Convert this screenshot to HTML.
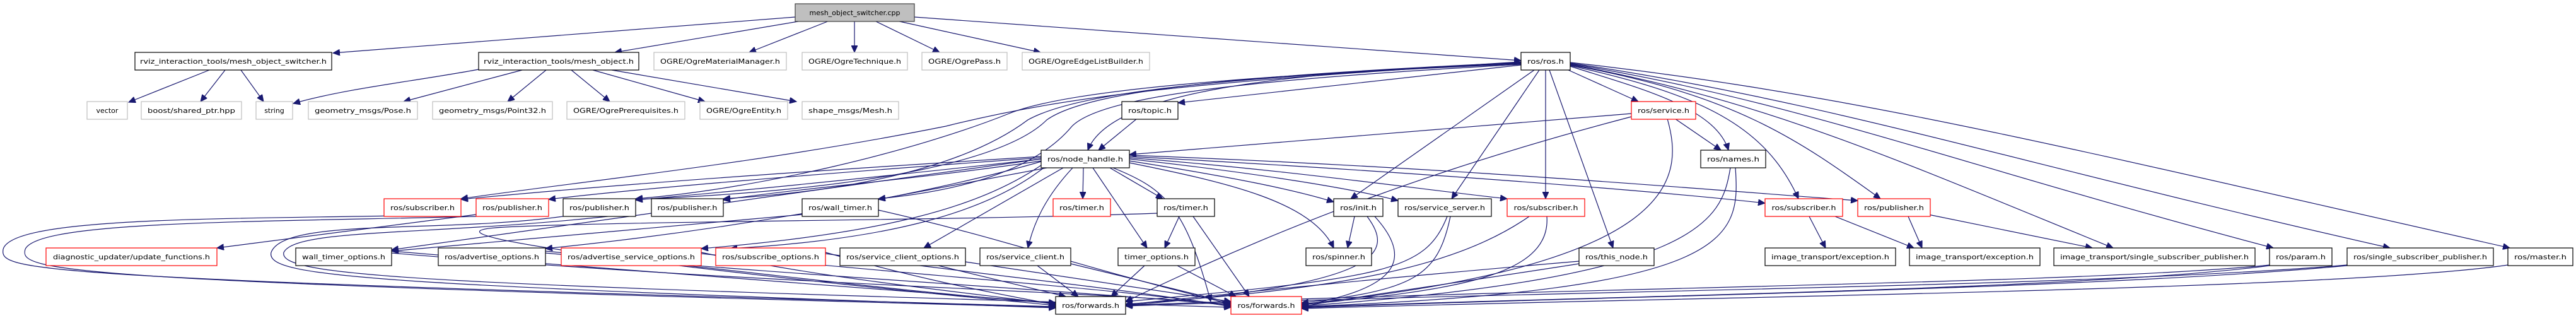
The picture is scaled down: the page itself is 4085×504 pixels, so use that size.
<!DOCTYPE html>
<html><head><meta charset="utf-8"><style>
html,body{margin:0;padding:0;background:#fff;}
svg{display:block;}
text{font-family:"DejaVu Sans","Liberation Sans",sans-serif;font-size:11px;fill:#000;}
.e{fill:none;stroke:#191970;stroke-width:1.2;}
.n rect{fill:#fff;stroke:#000;stroke-width:1.2;}
.g rect{fill:#fff;stroke:#bfbfbf;stroke-width:1.2;}
.r rect{fill:#fff;stroke:#ff0000;stroke-width:1.2;}
</style></head><body>
<svg width="4085" height="504" viewBox="0 0 4085 504" xmlns="http://www.w3.org/2000/svg">
<defs>
<marker id="a" markerUnits="userSpaceOnUse" markerWidth="12" markerHeight="10" refX="11" refY="5" orient="auto">
<path d="M0,0 L11,5 L0,10 z" fill="#191970" stroke="#191970"/>
</marker>
</defs>
<g marker-end="url(#a)">
<!-- cpp -->
<path class="e" d="M1261,27 L528,84"/>
<path class="e" d="M1272,33 L975,83"/>
<path class="e" d="M1315,33 L1188,83"/>
<path class="e" d="M1355,33 L1355,83"/>
<path class="e" d="M1387,33 L1490,83"/>
<path class="e" d="M1422,33 L1650,83"/>
<path class="e" d="M1450,27 L2412,96"/>
<!-- switcher.h -->
<path class="e" d="M332,111 L204,162"/>
<path class="e" d="M357,111 L318,161"/>
<path class="e" d="M382,111 L418,161"/>
<!-- mesh_object.h -->
<path class="e" d="M759,110 C650,130 550,140 465,164"/>
<path class="e" d="M828,111 L640,161"/>
<path class="e" d="M866,111 L805,161"/>
<path class="e" d="M906,111 L967,161"/>
<path class="e" d="M940,111 L1118,161"/>
<path class="e" d="M970,111 L1263,161"/>
<!-- ros.h -->
<path class="e" d="M2412,100 C2000,115 1760,150 1725,238"/>
<path class="e" d="M2412,103 L1868,163"/>
<path class="e" d="M2412,98 C1900,130 1700,150 1500,200 C1200,260 900,290 731,315"/>
<path class="e" d="M2412,100 C2000,120 1700,140 1600,180 C1450,240 1200,300 1008,315"/>
<path class="e" d="M2412,101 C2000,120 1720,140 1630,190 C1550,250 1400,300 1147,315"/>
<path class="e" d="M2412,102 C2000,125 1750,150 1700,200 C1650,260 1550,300 1393,315"/>
<path class="e" d="M2412,99 C2000,118 1730,140 1660,190 C1600,250 1400,300 1008,316"/>
<path class="e" d="M2433,111 L2142,315"/>
<path class="e" d="M2441,111 L2302,315"/>
<path class="e" d="M2451,111 L2451,315"/>
<path class="e" d="M2457,111 L2558,393"/>
<path class="e" d="M2487,111 L2598,161"/>
<path class="e" d="M2490,105 C2600,140 2720,170 2741,238"/>
<path class="e" d="M2490,104 C2700,150 2800,200 2852,315"/>
<path class="e" d="M2490,103 C2750,150 2850,220 2982,315"/>
<path class="e" d="M2490,102 C2800,160 3000,250 3351,393"/>
<path class="e" d="M2490,101 C2850,160 3100,260 3605,393"/>
<path class="e" d="M2490,100 C2900,160 3200,260 3790,393"/>
<path class="e" d="M2490,99 C2950,150 3300,240 3980,393"/>
<!-- service / topic / names -->
<path class="e" d="M2587,180 L1791,245"/>
<path class="e" d="M2587,185 C2300,260 2050,350 1785,478"/>
<path class="e" d="M2644,188 C2670,280 2670,420 2064,482"/>
<path class="e" d="M2656,188 L2729,238"/>
<path class="e" d="M1803,188 L1742,238"/>
<path class="e" d="M2744,266 C2730,350 2700,440 2064,485"/>
<path class="e" d="M2752,266 C2760,380 2750,460 2064,486"/>
<!-- node_handle -->
<path class="e" d="M1651,248 C1300,270 1000,290 731,316"/>
<path class="e" d="M1651,250 C1300,275 1000,300 870,316"/>
<path class="e" d="M1651,252 C1400,280 1200,300 1008,317"/>
<path class="e" d="M1651,255 C1450,285 1250,300 1147,317"/>
<path class="e" d="M1660,266 L1393,316"/>
<path class="e" d="M1718,266 L1717,315"/>
<path class="e" d="M1760,266 L1844,315"/>
<path class="e" d="M1791,255 C1950,280 2050,300 2115,320"/>
<path class="e" d="M1791,252 C2000,275 2150,300 2217,318"/>
<path class="e" d="M1791,250 C2050,270 2250,300 2390,315"/>
<path class="e" d="M1791,248 C2200,270 2600,300 2799,322"/>
<path class="e" d="M1791,246 C2300,265 2700,300 2946,318"/>
<path class="e" d="M1791,258 C1950,290 2080,320 2115,393"/>
<path class="e" d="M1651,252 C1300,300 800,370 621,396"/>
<path class="e" d="M1651,256 C1500,300 1200,360 865,394"/>
<path class="e" d="M1651,262 C1550,330 1400,370 1112,394"/>
<path class="e" d="M1655,266 C1560,340 1400,380 1158,394"/>
<path class="e" d="M1686,266 L1465,393"/>
<path class="e" d="M1701,266 C1660,310 1640,350 1630,393"/>
<path class="e" d="M1733,266 L1819,393"/>
<path class="e" d="M1765,266 C1850,300 1880,330 1920,478"/>
<!-- row4 down -->
<path class="e" d="M755,340 L344,393"/>
<path class="e" d="M1272,340 L621,398"/>
<path class="e" d="M1393,333 C1600,380 1700,420 1952,482"/>
<path class="e" d="M1870,343 L1847,393"/>
<path class="e" d="M1892,343 L1981,470"/>
<path class="e" d="M1835,338 C1500,350 1000,350 800,360 C600,370 1200,440 1674,484"/>
<path class="e" d="M2148,343 L2137,393"/>
<path class="e" d="M2168,343 C2210,400 2200,450 1785,484"/>
<path class="e" d="M2180,343 C2250,420 2200,460 2064,484"/>
<path class="e" d="M2295,343 C2260,430 2200,440 1785,478"/>
<path class="e" d="M2300,343 C2280,440 2240,460 2064,480"/>
<path class="e" d="M2425,343 C2300,430 2100,460 1785,482"/>
<path class="e" d="M2453,343 C2460,440 2300,460 2064,483"/>
<path class="e" d="M2869,343 L2895,393"/>
<path class="e" d="M2910,343 L3035,393"/>
<path class="e" d="M3026,343 L3048,393"/>
<path class="e" d="M3058,340 L3318,393"/>
<!-- row5 to forwards -->
<path class="e" d="M621,398 C1000,430 1400,460 1674,480"/>
<path class="e" d="M621,401 C1200,450 1700,460 1952,482"/>
<path class="e" d="M865,398 C1200,430 1400,460 1674,481"/>
<path class="e" d="M865,401 C1300,440 1700,460 1952,484"/>
<path class="e" d="M1112,400 C1300,440 1500,460 1674,482"/>
<path class="e" d="M1112,402 C1500,440 1800,460 1952,485"/>
<path class="e" d="M1309,400 C1450,440 1550,460 1674,483"/>
<path class="e" d="M1309,402 C1600,440 1800,460 1952,486"/>
<path class="e" d="M1488,421 L1690,470"/>
<path class="e" d="M1531,415 L1952,478"/>
<path class="e" d="M1645,421 L1710,470"/>
<path class="e" d="M1698,418 L1952,480"/>
<path class="e" d="M1815,421 L1762,470"/>
<path class="e" d="M1867,421 L1960,470"/>
<path class="e" d="M2504,414 C2200,440 2000,460 1785,483"/>
<path class="e" d="M2504,418 C2300,450 2150,470 2064,486"/>
<path class="e" d="M3599,420 C3300,450 2500,455 1785,484"/>
<path class="e" d="M3599,421 C3300,460 2500,470 2064,487"/>
<path class="e" d="M3722,420 C3300,455 2500,460 1785,485"/>
<path class="e" d="M3722,421 C3300,460 2500,470 2064,488"/>
<path class="e" d="M3977,420 C3700,460 2700,470 2064,489"/>
<!-- big loops -->
<path class="e" d="M731,340 C400,348 20,340 5,395 C0,430 30,440 1674,486"/>
<path class="e" d="M755,343 C400,352 60,350 40,395 C30,430 80,445 1674,487"/>
<path class="e" d="M893,343 C700,370 450,345 430,400 C420,440 600,450 1674,488"/>
<path class="e" d="M1008,338 C700,375 470,360 450,400 C440,440 700,450 1952,487"/>
</g>

<!-- nodes -->
<g class="n" style="fill:#bfbfbf"><rect x="1261" y="6" width="189" height="28" style="fill:#bfbfbf;stroke:#404040"/><text x="1355.5" y="24" text-anchor="middle">mesh_object_switcher.cpp</text></g>

<g class="n"><rect x="214" y="83" width="312" height="28"/><text x="370" y="101" text-anchor="middle" textLength="296" lengthAdjust="spacingAndGlyphs">rviz_interaction_tools/mesh_object_switcher.h</text></g>
<g class="n"><rect x="759" y="83" width="254" height="28"/><text x="886" y="101" text-anchor="middle" textLength="238" lengthAdjust="spacingAndGlyphs">rviz_interaction_tools/mesh_object.h</text></g>
<g class="g"><rect x="1037" y="83" width="210" height="28"/><text x="1142" y="101" text-anchor="middle" textLength="190" lengthAdjust="spacingAndGlyphs">OGRE/OgreMaterialManager.h</text></g>
<g class="g"><rect x="1272" y="83" width="167" height="28"/><text x="1355.5" y="101" text-anchor="middle" textLength="147" lengthAdjust="spacingAndGlyphs">OGRE/OgreTechnique.h</text></g>
<g class="g"><rect x="1462" y="83" width="135" height="28"/><text x="1529.5" y="101" text-anchor="middle" textLength="115" lengthAdjust="spacingAndGlyphs">OGRE/OgrePass.h</text></g>
<g class="g"><rect x="1621" y="83" width="202" height="28"/><text x="1722" y="101" text-anchor="middle" textLength="182" lengthAdjust="spacingAndGlyphs">OGRE/OgreEdgeListBuilder.h</text></g>
<g class="n"><rect x="2412" y="83" width="78" height="28"/><text x="2451" y="101" text-anchor="middle" textLength="58" lengthAdjust="spacingAndGlyphs">ros/ros.h</text></g>

<g class="g"><rect x="138" y="161" width="64" height="28"/><text x="170" y="179" text-anchor="middle">vector</text></g>
<g class="g"><rect x="224" y="161" width="159" height="28"/><text x="303.5" y="179" text-anchor="middle" textLength="139" lengthAdjust="spacingAndGlyphs">boost/shared_ptr.hpp</text></g>
<g class="g"><rect x="406" y="161" width="58" height="28"/><text x="435" y="179" text-anchor="middle">string</text></g>
<g class="g"><rect x="489" y="161" width="173" height="28"/><text x="575.5" y="179" text-anchor="middle" textLength="153" lengthAdjust="spacingAndGlyphs">geometry_msgs/Pose.h</text></g>
<g class="g"><rect x="686" y="161" width="190" height="28"/><text x="781" y="179" text-anchor="middle" textLength="170" lengthAdjust="spacingAndGlyphs">geometry_msgs/Point32.h</text></g>
<g class="g"><rect x="899" y="161" width="187" height="28"/><text x="992.5" y="179" text-anchor="middle" textLength="167" lengthAdjust="spacingAndGlyphs">OGRE/OgrePrerequisites.h</text></g>
<g class="g"><rect x="1110" y="161" width="139" height="28"/><text x="1179.5" y="179" text-anchor="middle" textLength="119" lengthAdjust="spacingAndGlyphs">OGRE/OgreEntity.h</text></g>
<g class="g"><rect x="1272" y="161" width="153" height="28"/><text x="1348.5" y="179" text-anchor="middle" textLength="133" lengthAdjust="spacingAndGlyphs">shape_msgs/Mesh.h</text></g>
<g class="n"><rect x="1779" y="161" width="89" height="28"/><text x="1823.5" y="179" text-anchor="middle" textLength="69" lengthAdjust="spacingAndGlyphs">ros/topic.h</text></g>
<g class="r"><rect x="2587" y="161" width="102" height="28"/><text x="2638" y="179" text-anchor="middle" textLength="82" lengthAdjust="spacingAndGlyphs">ros/service.h</text></g>

<g class="n"><rect x="1651" y="238" width="140" height="28"/><text x="1721" y="256" text-anchor="middle" textLength="120" lengthAdjust="spacingAndGlyphs">ros/node_handle.h</text></g>
<g class="n"><rect x="2697" y="238" width="103" height="28"/><text x="2748.5" y="256" text-anchor="middle" textLength="83" lengthAdjust="spacingAndGlyphs">ros/names.h</text></g>

<g class="r"><rect x="609" y="315" width="122" height="28"/><text x="670" y="333" text-anchor="middle" textLength="102" lengthAdjust="spacingAndGlyphs">ros/subscriber.h</text></g>
<g class="r"><rect x="755" y="315" width="115" height="28"/><text x="812.5" y="333" text-anchor="middle" textLength="95" lengthAdjust="spacingAndGlyphs">ros/publisher.h</text></g>
<g class="n"><rect x="893" y="315" width="115" height="28"/><text x="950.5" y="333" text-anchor="middle" textLength="95" lengthAdjust="spacingAndGlyphs">ros/publisher.h</text></g>
<g class="n"><rect x="1033" y="315" width="114" height="28"/><text x="1090" y="333" text-anchor="middle" textLength="95" lengthAdjust="spacingAndGlyphs">ros/publisher.h</text></g>
<g class="n"><rect x="1272" y="315" width="121" height="28"/><text x="1332.5" y="333" text-anchor="middle" textLength="101" lengthAdjust="spacingAndGlyphs">ros/wall_timer.h</text></g>
<g class="r"><rect x="1670" y="315" width="91" height="28"/><text x="1715.5" y="333" text-anchor="middle" textLength="71" lengthAdjust="spacingAndGlyphs">ros/timer.h</text></g>
<g class="n"><rect x="1835" y="315" width="91" height="28"/><text x="1880.5" y="333" text-anchor="middle" textLength="71" lengthAdjust="spacingAndGlyphs">ros/timer.h</text></g>
<g class="n"><rect x="2115" y="315" width="78" height="28"/><text x="2154" y="333" text-anchor="middle" textLength="58" lengthAdjust="spacingAndGlyphs">ros/init.h</text></g>
<g class="n"><rect x="2217" y="315" width="148" height="28"/><text x="2291" y="333" text-anchor="middle" textLength="128" lengthAdjust="spacingAndGlyphs">ros/service_server.h</text></g>
<g class="r"><rect x="2390" y="315" width="123" height="28"/><text x="2451.5" y="333" text-anchor="middle" textLength="102" lengthAdjust="spacingAndGlyphs">ros/subscriber.h</text></g>
<g class="r"><rect x="2799" y="315" width="123" height="28"/><text x="2860.5" y="333" text-anchor="middle" textLength="102" lengthAdjust="spacingAndGlyphs">ros/subscriber.h</text></g>
<g class="r"><rect x="2946" y="315" width="115" height="28"/><text x="3003.5" y="333" text-anchor="middle" textLength="95" lengthAdjust="spacingAndGlyphs">ros/publisher.h</text></g>

<g class="r"><rect x="73" y="393" width="271" height="28"/><text x="208.5" y="411" text-anchor="middle" textLength="249" lengthAdjust="spacingAndGlyphs">diagnostic_updater/update_functions.h</text></g>
<g class="n"><rect x="469" y="393" width="152" height="28"/><text x="545" y="411" text-anchor="middle" textLength="132" lengthAdjust="spacingAndGlyphs">wall_timer_options.h</text></g>
<g class="n"><rect x="695" y="393" width="170" height="28"/><text x="780" y="411" text-anchor="middle" textLength="150" lengthAdjust="spacingAndGlyphs">ros/advertise_options.h</text></g>
<g class="r"><rect x="890" y="393" width="222" height="28"/><text x="1001" y="411" text-anchor="middle" textLength="202" lengthAdjust="spacingAndGlyphs">ros/advertise_service_options.h</text></g>
<g class="r"><rect x="1135" y="393" width="174" height="28"/><text x="1222" y="411" text-anchor="middle" textLength="154" lengthAdjust="spacingAndGlyphs">ros/subscribe_options.h</text></g>
<g class="n"><rect x="1332" y="393" width="199" height="28"/><text x="1431.5" y="411" text-anchor="middle" textLength="179" lengthAdjust="spacingAndGlyphs">ros/service_client_options.h</text></g>
<g class="n"><rect x="1554" y="393" width="144" height="28"/><text x="1626" y="411" text-anchor="middle" textLength="124" lengthAdjust="spacingAndGlyphs">ros/service_client.h</text></g>
<g class="n"><rect x="1773" y="393" width="122" height="28"/><text x="1834" y="411" text-anchor="middle" textLength="102" lengthAdjust="spacingAndGlyphs">timer_options.h</text></g>
<g class="n"><rect x="2071" y="393" width="104" height="28"/><text x="2123" y="411" text-anchor="middle" textLength="84" lengthAdjust="spacingAndGlyphs">ros/spinner.h</text></g>
<g class="n"><rect x="2504" y="393" width="119" height="28"/><text x="2563.5" y="411" text-anchor="middle" textLength="99" lengthAdjust="spacingAndGlyphs">ros/this_node.h</text></g>
<g class="n"><rect x="2799" y="393" width="207" height="28"/><text x="2902.5" y="411" text-anchor="middle" textLength="187" lengthAdjust="spacingAndGlyphs">image_transport/exception.h</text></g>
<g class="n"><rect x="3028" y="393" width="207" height="28"/><text x="3131.5" y="411" text-anchor="middle" textLength="187" lengthAdjust="spacingAndGlyphs">image_transport/exception.h</text></g>
<g class="n"><rect x="3257" y="393" width="319" height="28"/><text x="3416.5" y="411" text-anchor="middle" textLength="299" lengthAdjust="spacingAndGlyphs">image_transport/single_subscriber_publisher.h</text></g>
<g class="n"><rect x="3599" y="393" width="99" height="28"/><text x="3648.5" y="411" text-anchor="middle" textLength="79" lengthAdjust="spacingAndGlyphs">ros/param.h</text></g>
<g class="n"><rect x="3722" y="393" width="232" height="28"/><text x="3838" y="411" text-anchor="middle" textLength="212" lengthAdjust="spacingAndGlyphs">ros/single_subscriber_publisher.h</text></g>
<g class="n"><rect x="3977" y="393" width="103" height="28"/><text x="4028.5" y="411" text-anchor="middle" textLength="83" lengthAdjust="spacingAndGlyphs">ros/master.h</text></g>

<g class="n"><rect x="1674" y="470" width="111" height="28"/><text x="1729.5" y="488" text-anchor="middle" textLength="91" lengthAdjust="spacingAndGlyphs">ros/forwards.h</text></g>
<g class="r"><rect x="1952" y="470" width="112" height="28"/><text x="2008" y="488" text-anchor="middle" textLength="91" lengthAdjust="spacingAndGlyphs">ros/forwards.h</text></g>
</svg>
</body></html>
